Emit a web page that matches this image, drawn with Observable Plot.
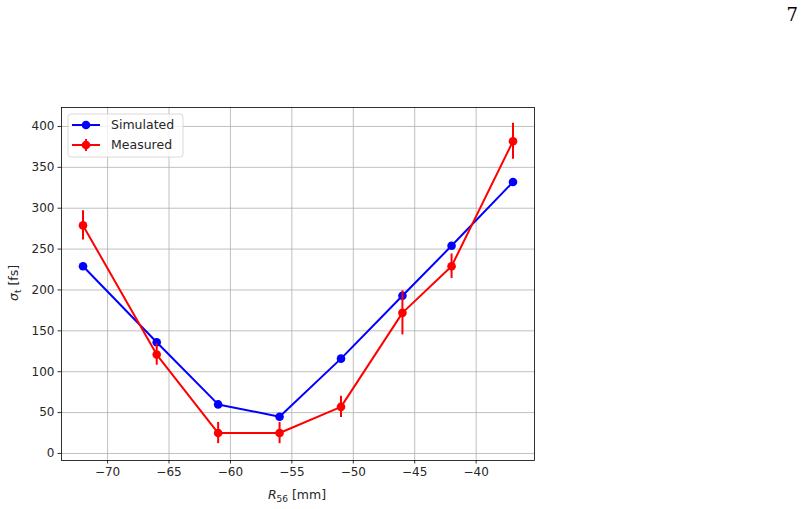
<!DOCTYPE html>
<html>
<head>
<meta charset="utf-8">
<script src="https://cdn.jsdelivr.net/npm/d3@7"></script>
<script src="https://cdn.jsdelivr.net/npm/@observablehq/plot@0.6"></script>
<style>
  html, body { margin: 0; padding: 0; background: #fff; }
  #chart { position: relative; width: 804px; height: 509px; }
</style>
</head>
<body>
<div id="chart"></div>
<script>
// Data
const r56 = [-72, -66, -61, -56, -51, -46, -42, -37];
const simulated = [229, 136, 60, 45, 116, 193, 254, 332];
const measured = [279, 121, 25, 25, 57, 172, 229, 382];
const measuredErr = [18, 13, 13, 13, 13, 27, 15, 22];
const xTicks = [-70, -65, -60, -55, -50, -45, -40];
const yTicks = [0, 50, 100, 150, 200, 250, 300, 350, 400];
const seriesNames = ["Simulated", "Measured"];
const pageNumber = "7";

const simData = r56.map((x, i) => ({x, y: simulated[i]}));
const measData = r56.map((x, i) => ({x, y: measured[i], lo: measured[i] - measuredErr[i], hi: measured[i] + measuredErr[i]}));

const BLUE = "#0000ff", RED = "#ff0000";
const fmt = d => d < 0 ? "\u2212" + Math.abs(d) : String(d);

const plot = Plot.plot({
  width: 804,
  height: 509,
  marginLeft: 61,
  marginRight: 270,
  marginTop: 107,
  marginBottom: 49,
  style: {fontFamily: "DejaVu Sans", fontSize: "12px", color: "#262626", background: "#fff"},
  x: {domain: [-73.75, -35.25], label: null},
  y: {domain: [-8.6, 423.2], label: null},
  marks: [
    Plot.gridX(xTicks, {stroke: "#b0b0b0", strokeOpacity: 1, strokeWidth: 0.8}),
    Plot.gridY(yTicks, {stroke: "#b0b0b0", strokeOpacity: 1, strokeWidth: 0.8}),
    Plot.axisX(xTicks, {tickSize: 3.5, tickPadding: 3.5, tickFormat: fmt, stroke: "#000", strokeWidth: 0.8, fill: "#262626", label: null}),
    Plot.axisY(yTicks, {tickSize: 3.5, tickPadding: 3.5, tickFormat: fmt, stroke: "#000", strokeWidth: 0.8, fill: "#262626", label: null}),
    Plot.line(simData, {x: "x", y: "y", stroke: BLUE, strokeWidth: 2}),
    Plot.dot(simData, {x: "x", y: "y", r: 4.3, fill: BLUE}),
    Plot.line(measData, {x: "x", y: "y", stroke: RED, strokeWidth: 2}),
    Plot.ruleX(measData, {x: "x", y1: "lo", y2: "hi", stroke: RED, strokeWidth: 2}),
    Plot.dot(measData, {x: "x", y: "y", r: 4.3, fill: RED}),
    Plot.frame({stroke: "#000", strokeWidth: 0.8})
  ]
});

document.getElementById("chart").appendChild(plot);

const svg = d3.select(plot);

// Axis labels with math-style subscripts
const xl = svg.append("text")
  .attr("x", 297).attr("y", 499)
  .attr("text-anchor", "middle")
  .attr("font-family", "DejaVu Sans").attr("font-size", 12.5).attr("fill", "#262626");
xl.append("tspan").attr("font-style", "italic").text("R");
xl.append("tspan").attr("font-size", 9).attr("dy", 2.5).text("56");
xl.append("tspan").attr("dy", -2.5).text(" [mm]");

const yl = svg.append("text")
  .attr("transform", "translate(18,283) rotate(-90)")
  .attr("text-anchor", "middle")
  .attr("font-family", "DejaVu Sans").attr("font-size", 12.5).attr("fill", "#262626");
yl.append("tspan").attr("font-style", "italic").text("\u03c3");
yl.append("tspan").attr("font-size", 9).attr("dy", 2.5).text("t");
yl.append("tspan").attr("dy", -2.5).text(" [fs]");

// Legend
const lg = svg.append("g");
lg.append("rect").attr("x", 68).attr("y", 114).attr("width", 115).attr("height", 43)
  .attr("rx", 3).attr("fill", "#fff").attr("fill-opacity", 0.8)
  .attr("stroke", "#d0d0d0").attr("stroke-width", 0.8);
const colors = [BLUE, RED];
seriesNames.forEach((name, i) => {
  const cy = 125 + i * 20;
  lg.append("line").attr("x1", 72).attr("x2", 100).attr("y1", cy).attr("y2", cy)
    .attr("stroke", colors[i]).attr("stroke-width", 2);
  if (i === 1) {
    lg.append("line").attr("x1", 86).attr("x2", 86).attr("y1", cy - 6).attr("y2", cy + 6)
      .attr("stroke", colors[i]).attr("stroke-width", 2);
  }
  lg.append("circle").attr("cx", 86).attr("cy", cy).attr("r", 4.3).attr("fill", colors[i]);
  lg.append("text").attr("x", 111).attr("y", cy).attr("dy", "0.35em")
    .attr("text-anchor", "start")
    .attr("font-family", "DejaVu Sans").attr("font-size", 12.5).attr("fill", "#262626").text(name);
});

// Page number
svg.append("text").attr("x", 798).attr("y", 21).attr("text-anchor", "end")
  .attr("font-family", "DejaVu Serif").attr("font-size", 18).attr("fill", "#000").text(pageNumber);
</script>
</body>
</html>
